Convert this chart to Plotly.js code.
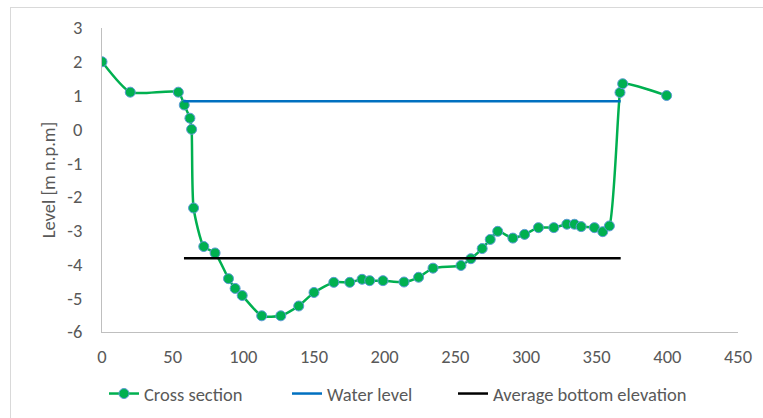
<!DOCTYPE html>
<html>
<head>
<meta charset="utf-8">
<script src="https://cdn.plot.ly/plotly-3.0.1.min.js"></script>
<style>
  html, body { margin: 0; padding: 0; background: #ffffff; }
  #wrap { position: relative; width: 763px; height: 418px; overflow: hidden; }
  #frame { position: absolute; left: 10px; top: 7px; width: 800px; height: 450px;
           border-left: 1px solid #d9d9d9; border-top: 1px solid #d9d9d9; pointer-events: none; z-index: 5; }
  #chart { position: absolute; left: 0; top: 0; width: 763px; height: 418px; }
</style>
</head>
<body>
<div id="wrap">
  <div id="chart"></div>
  <div id="frame"></div>
</div>
<script>
// Cross section (distance [m], level [m n.p.m])
const crossX = [0, 20, 54, 58.2, 62.2, 63.4, 64.8, 72, 80, 89.5, 94.2, 99.2, 113, 126.5, 139.2, 150, 164, 175.3, 184, 189.4, 198.8, 213.7, 224, 234.2, 254, 261, 269, 274.7, 280, 290.7, 299, 308.8, 319.7, 328.9, 334.3, 339, 348.4, 354.3, 359, 366.5, 368.4, 399.5];
const crossY = [2.0, 1.1, 1.1, 0.72, 0.33, 0.0, -2.33, -3.47, -3.66, -4.42, -4.71, -4.92, -5.52, -5.52, -5.23, -4.83, -4.53, -4.53, -4.44, -4.48, -4.48, -4.52, -4.38, -4.11, -4.03, -3.83, -3.53, -3.26, -3.02, -3.22, -3.11, -2.91, -2.91, -2.81, -2.81, -2.88, -2.91, -3.03, -2.86, 1.09, 1.35, 1.0];

// Water level
const waterX = [57.5, 367];
const waterY = [0.83, 0.83];

// Average bottom elevation
const avgX = [58, 367];
const avgY = [-3.82, -3.82];

const xTicks = [0, 50, 100, 150, 200, 250, 300, 350, 400, 450];
const yTicks = [3, 2, 1, 0, -1, -2, -3, -4, -5, -6];

const FONT = "Carlito, Calibri, Lato, Roboto, 'Liberation Sans', sans-serif";
const FS = 18.5;

const traces = [
  {
    x: crossX, y: crossY, name: 'Cross section', type: 'scatter', mode: 'lines+markers', legend: 'legend',
    line: { color: '#00b050', width: 2.5, shape: 'spline', smoothing: 0.6 },
    marker: { color: '#00b050', size: 10, line: { color: '#5b9bd5', width: 1 } }
  },
  {
    x: waterX, y: waterY, name: 'Water level', type: 'scatter', mode: 'lines', legend: 'legend2',
    line: { color: '#0070c0', width: 2.5 }
  },
  {
    x: avgX, y: avgY, name: 'Average bottom elevation', type: 'scatter', mode: 'lines', legend: 'legend3',
    line: { color: '#000000', width: 2.5 }
  }
];

function legendAt(px) {
  return {
    orientation: 'h', xref: 'container', x: px / 763, xanchor: 'left',
    yref: 'container', y: 0.0574, yanchor: 'middle',
    font: { family: FONT, size: FS, color: '#595959' },
    itemwidth: 30, bgcolor: 'rgba(0,0,0,0)', borderwidth: 0
  };
}

const layout = {
  width: 763, height: 418,
  paper_bgcolor: '#ffffff', plot_bgcolor: '#ffffff',
  margin: { l: 102, r: 25, t: 28, b: 86 },
  font: { family: FONT, size: FS, color: '#595959' },
  showlegend: true,
  legend: legendAt(104),
  legend2: legendAt(287),
  legend3: legendAt(453),
  xaxis: {
    range: [0, 450], tickvals: xTicks, ticktext: xTicks.map(String), automargin: false,
    showgrid: false, zeroline: false, showline: true, linecolor: '#bfbfbf', linewidth: 1,
    ticks: 'outside', ticklen: 8, tickcolor: 'rgba(0,0,0,0)',
    tickfont: { family: FONT, size: FS, color: '#595959' },
    fixedrange: true
  },
  yaxis: {
    range: [-6, 3], tickvals: yTicks, ticktext: yTicks.map(String), automargin: false,
    showgrid: false, zeroline: false, showline: true, linecolor: '#bfbfbf', linewidth: 1,
    ticks: 'outside', ticklen: 15, tickcolor: 'rgba(0,0,0,0)',
    tickfont: { family: FONT, size: FS, color: '#595959' },
    title: { text: 'Level [m n.p.m]', font: { family: FONT, size: FS, color: '#595959' }, standoff: 6 },
    fixedrange: true
  }
};

Plotly.newPlot('chart', traces, layout, { displayModeBar: false, staticPlot: true });
</script>
</body>
</html>
